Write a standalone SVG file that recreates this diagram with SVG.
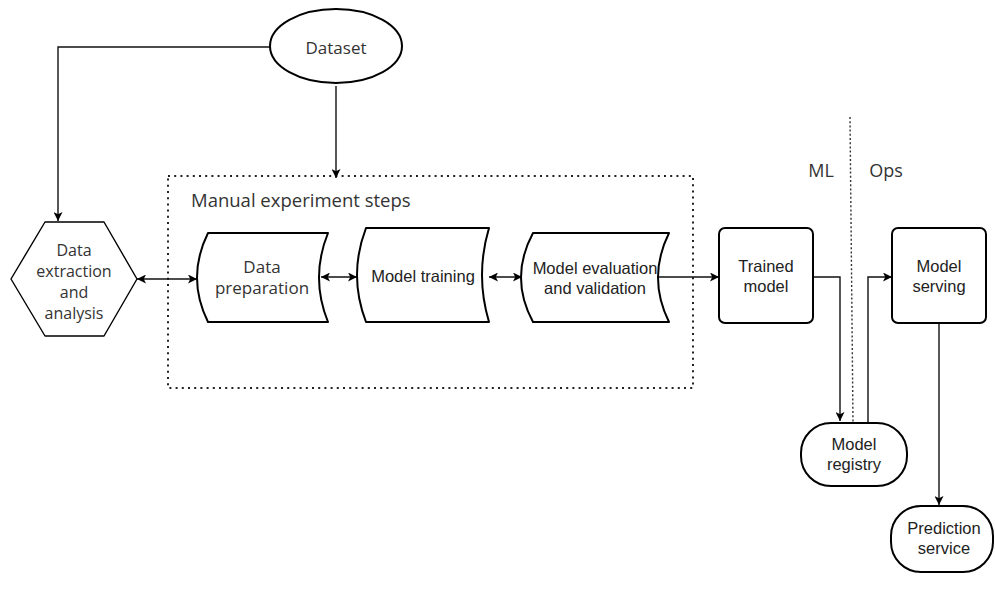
<svg xmlns="http://www.w3.org/2000/svg" width="995" height="592" viewBox="0 0 995 592">
  <style>
    .shape { fill: #ffffff; stroke: #000000; stroke-width: 2; stroke-linejoin: round; }
    .thin { stroke-width: 1.4; }
    .conn { fill: none; stroke: #111111; stroke-width: 1.4; }
    .ui { font-family: "Open Sans", "Noto Sans", "DejaVu Sans", sans-serif; fill: #333333; text-anchor: middle; }
    .ar { font-family: "Liberation Sans", Arial, sans-serif; fill: #222222; text-anchor: middle; font-size: 16.5px; }
    .dots { fill: none; stroke: #222222; stroke-width: 2; stroke-dasharray: 2 4.2; }
    .divider { fill: none; stroke: #333333; stroke-width: 1.4; stroke-dasharray: 2 2.2; }
  </style>
  <defs>
    <marker id="arrow" viewBox="0 0 10 10" refX="10" refY="5" markerWidth="10" markerHeight="9" markerUnits="userSpaceOnUse" orient="auto-start-reverse">
      <path d="M0,0 L10,5 L0,10 L2.5,5 Z" fill="#000000"/>
    </marker>
  </defs>

  <rect width="995" height="592" fill="#ffffff"/>

  <!-- experiment group frame and ML/Ops boundary -->
  <g id="experiment-group">
    <rect class="dots" x="168" y="176" width="525" height="212"/>
    <text class="ui" x="191" y="207" font-size="18.5" style="text-anchor:start">Manual experiment steps</text>
  </g>
  <g id="ml-ops-boundary">
    <line class="divider" x1="850" y1="117" x2="853" y2="422"/>
    <text class="ui" x="821" y="177" font-size="18">ML</text>
    <text class="ui" x="886" y="177" font-size="18">Ops</text>
  </g>

  <!-- connectors -->
  <g id="connectors">
    <path class="conn" d="M270,47 H58 V221" marker-end="url(#arrow)"/>
    <path class="conn" d="M336,86 V178" marker-end="url(#arrow)"/>
    <path class="conn" d="M137,279 H197" marker-start="url(#arrow)" marker-end="url(#arrow)"/>
    <path class="conn" d="M321,277 H357" marker-start="url(#arrow)" marker-end="url(#arrow)"/>
    <path class="conn" d="M489,277 H522" marker-start="url(#arrow)" marker-end="url(#arrow)"/>
    <path class="conn" d="M658,277 H719" marker-end="url(#arrow)"/>
    <path class="conn" d="M813,277 H840 V421" marker-end="url(#arrow)"/>
    <path class="conn" d="M868,423 V277 H892" marker-end="url(#arrow)"/>
    <path class="conn" d="M939,323 V505" marker-end="url(#arrow)"/>
  </g>

  <!-- nodes -->
  <g id="dataset">
    <ellipse class="shape" cx="336" cy="46" rx="66" ry="37"/>
    <text class="ui" x="336" y="54" font-size="17">Dataset</text>
  </g>

  <g id="data-extraction">
    <polygon class="shape thin" points="45,222 104,222 137,279 104,336 45,336 11,279"/>
    <text class="ui" x="74" y="256" font-size="16">Data</text>
    <text class="ui" x="74" y="277" font-size="16">extraction</text>
    <text class="ui" x="74" y="298" font-size="16">and</text>
    <text class="ui" x="74" y="319" font-size="16">analysis</text>
  </g>

  <g id="data-preparation">
    <path class="shape" d="M208,233 H328 Q310,277.5 328,322 H208 Q186,277.5 208,233 Z"/>
    <text class="ui" x="262" y="273" font-size="17">Data</text>
    <text class="ui" x="262" y="294" font-size="17">preparation</text>
  </g>

  <g id="model-training">
    <path class="shape" d="M366,228 H489 Q475,275 489,322 H366 Q348,275 366,228 Z"/>
    <text class="ar" x="423" y="282">Model training</text>
  </g>

  <g id="model-evaluation">
    <path class="shape" d="M533,233 H669 Q647,277.5 669,322 H533 Q509,277.5 533,233 Z"/>
    <text class="ar" x="595" y="274">Model evaluation</text>
    <text class="ar" x="595" y="294">and validation</text>
  </g>

  <g id="trained-model">
    <rect class="shape" x="719" y="228" width="94" height="95" rx="6"/>
    <text class="ar" x="766" y="272">Trained</text>
    <text class="ar" x="766" y="292">model</text>
  </g>

  <g id="model-registry">
    <rect class="shape" x="801" y="423" width="106" height="63" rx="30"/>
    <text class="ar" x="854" y="450">Model</text>
    <text class="ar" x="854" y="470">registry</text>
  </g>

  <g id="model-serving">
    <rect class="shape" x="892" y="228" width="94" height="95" rx="6"/>
    <text class="ar" x="939" y="272">Model</text>
    <text class="ar" x="939" y="292">serving</text>
  </g>

  <g id="prediction-service">
    <rect class="shape" x="891" y="506" width="102" height="66" rx="30"/>
    <text class="ar" x="944" y="534">Prediction</text>
    <text class="ar" x="944" y="554">service</text>
  </g>
</svg>
